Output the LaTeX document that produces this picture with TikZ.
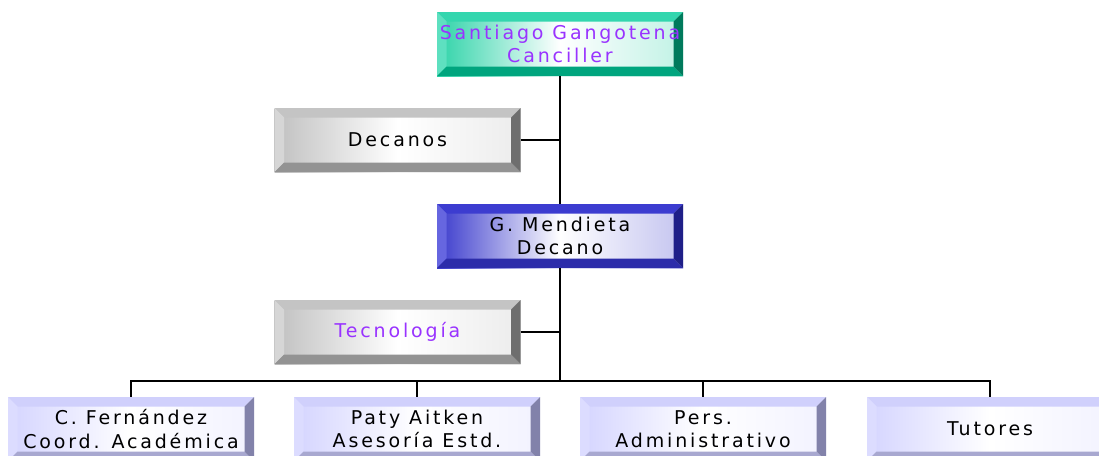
\documentclass[tikz,border=0pt]{standalone}
\usepackage{fontspec}
\setmainfont{DejaVu Sans}[LetterSpace=15]
\usetikzlibrary{calc}
\definecolor{tealface}{HTML}{2ED3A8}
\definecolor{tealtop}{HTML}{33D6AE}
\definecolor{tealleft}{HTML}{5EE0C0}
\definecolor{tealbot}{HTML}{00A57E}
\definecolor{tealright}{HTML}{007A5C}
\definecolor{grayface}{HTML}{C0C0C0}
\definecolor{graytop}{HTML}{C4C4C4}
\definecolor{grayleft}{HTML}{D6D6D6}
\definecolor{graybot}{HTML}{939393}
\definecolor{grayright}{HTML}{6E6E6E}
\definecolor{blueface}{HTML}{3A3ACC}
\definecolor{bluetop}{HTML}{3C3CD0}
\definecolor{blueleft}{HTML}{6666E0}
\definecolor{bluebot}{HTML}{2C2CAA}
\definecolor{blueright}{HTML}{1F1F88}
\definecolor{lavface}{HTML}{D4D4FF}
\definecolor{lavtop}{HTML}{D0D0FC}
\definecolor{lavleft}{HTML}{DCDCFF}
\definecolor{lavbot}{HTML}{A8A8D0}
\definecolor{lavright}{HTML}{8282AA}
\definecolor{purpletext}{HTML}{9933FF}
\newcommand{\bvw}{9.5pt}
\tikzset{
  bx/.style n args={5}{
    rectangle, minimum width=246pt, minimum height=64pt, inner sep=0pt, align=center,
    font=\fontsize{19}{23.5}\selectfont,
    left color=#1, right color=#1!30!white, middle color=white,
    path picture={
      \path (path picture bounding box.south west) coordinate (psw)
            (path picture bounding box.north east) coordinate (pne)
            (psw|-pne) coordinate (pnw)
            (pne|-psw) coordinate (pse);
      \fill[#2] (pnw) -- (pne) -- ($(pne)+(-\bvw,-\bvw)$) -- ($(pnw)+(\bvw,-\bvw)$) -- cycle;
      \fill[#3] (pnw) -- ($(pnw)+(\bvw,-\bvw)$) -- ($(psw)+(\bvw,\bvw)$) -- (psw) -- cycle;
      \fill[#4] (psw) -- (pse) -- ($(pse)+(-\bvw,\bvw)$) -- ($(psw)+(\bvw,\bvw)$) -- cycle;
      \fill[#5] (pne) -- (pse) -- ($(pse)+(-\bvw,\bvw)$) -- ($(pne)+(-\bvw,-\bvw)$) -- cycle;
    }
  },
  tealbox/.style={bx={tealface}{tealtop}{tealleft}{tealbot}{tealright}},
  graybox/.style={bx={grayface}{graytop}{grayleft}{graybot}{grayright}},
  bluebox/.style={bx={blueface}{bluetop}{blueleft}{bluebot}{blueright}},
  lavbox/.style={bx={lavface}{lavtop}{lavleft}{lavbot}{lavright}},
  conn/.style={draw=black, line width=1.6pt},
}
\begin{document}
\begin{tikzpicture}[x=1pt,y=-1pt]
\useasboundingbox (0,0) rectangle (1099,455);
\clip (0,0) rectangle (1099,455);
\node[tealbox, text=purpletext] (top) at (560,44) {Santiago Gangotena\\Canciller};
\node[graybox] (dec) at (397.5,140) {Decanos};
\node[bluebox] (mend) at (560,236) {G. Mendieta\\Decano};
\node[graybox, text=purpletext] (tec) at (397.5,332) {Tecnología};
\node[lavbox] (b1) at (131,429) {C. Fernández\\Coord. Académica};
\node[lavbox] (b2) at (417,429) {Paty Aitken\\Asesoría Estd.};
\node[lavbox] (b3) at (703,429) {Pers.\\Administrativo};
\node[lavbox] (b4) at (990,429) {Tutores};
\coordinate (bus) at (560,381);
\draw[conn] (top.south) -- (mend.north);
\draw[conn] (dec.east) -- (dec.east -| top.south);
\draw[conn] (mend.south) -- (bus);
\draw[conn] (tec.east) -- (tec.east -| mend.south);
\draw[conn] (b1.north) -- (b1.north |- bus) -- (b4.north |- bus) -- (b4.north);
\draw[conn] (b2.north) -- (b2.north |- bus);
\draw[conn] (b3.north) -- (b3.north |- bus);
\end{tikzpicture}
\end{document}
